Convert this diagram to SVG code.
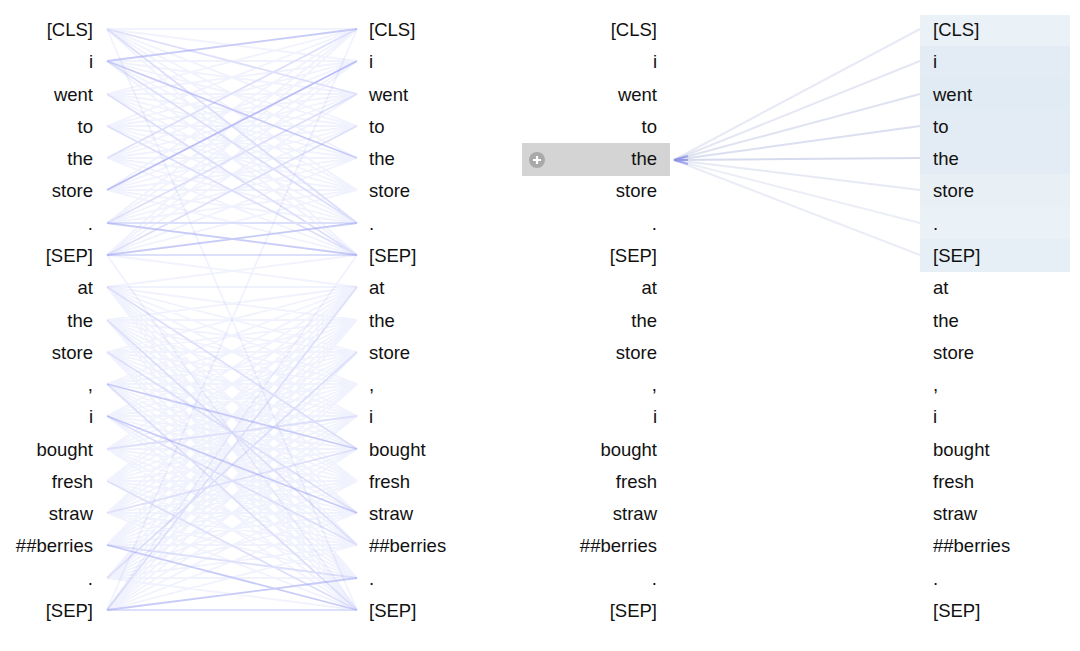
<svg xmlns="http://www.w3.org/2000/svg" width="1080" height="651" viewBox="0 0 1080 651">
<defs>
<filter id="soft" x="-5%" y="-5%" width="110%" height="110%"><feGaussianBlur stdDeviation="0.7"/></filter>
</defs>
<style>
text{font-family:"Liberation Sans",Arial,Helvetica,sans-serif;font-size:18.5px;fill:#111}
.l{text-anchor:end}
.r{text-anchor:start}
.mesh{fill:none;stroke:#5b63e8;stroke-opacity:0.085;stroke-width:1.8}
.med{fill:none;stroke:#6a71ea;stroke-opacity:0.15;stroke-width:1.8}
.strong{fill:none;stroke:#6a71ea;stroke-opacity:0.3;stroke-width:1.8}
.att{fill:none;stroke:#b0b8dc;stroke-width:2}
</style>
<rect width="1080" height="651" fill="#ffffff"/>
<g id="connectors">
<g id="left-panel-lines" filter="url(#soft)">
<path class="mesh" d="M107 29L357 29M107 29L357 61M107 29L357 94M107 29L357 126M107 29L357 158M107 29L357 190M107 29L357 223M107 29L357 255M107 61L357 29M107 61L357 61M107 61L357 94M107 61L357 126M107 61L357 158M107 61L357 190M107 61L357 223M107 61L357 255M107 94L357 29M107 94L357 61M107 94L357 94M107 94L357 126M107 94L357 158M107 94L357 190M107 94L357 223M107 94L357 255M107 126L357 29M107 126L357 61M107 126L357 94M107 126L357 126M107 126L357 158M107 126L357 190M107 126L357 223M107 126L357 255M107 158L357 29M107 158L357 61M107 158L357 94M107 158L357 126M107 158L357 158M107 158L357 190M107 158L357 223M107 158L357 255M107 190L357 29M107 190L357 61M107 190L357 94M107 190L357 126M107 190L357 158M107 190L357 190M107 190L357 223M107 190L357 255M107 223L357 29M107 223L357 61M107 223L357 94M107 223L357 126M107 223L357 158M107 223L357 190M107 223L357 223M107 223L357 255M107 255L357 29M107 255L357 61M107 255L357 94M107 255L357 126M107 255L357 158M107 255L357 190M107 255L357 223M107 255L357 255"/>
<path class="mesh" d="M107 287L357 287M107 287L357 320M107 287L357 352M107 287L357 384M107 287L357 416M107 287L357 449M107 287L357 481M107 287L357 513M107 287L357 545M107 287L357 578M107 287L357 610M107 320L357 287M107 320L357 320M107 320L357 352M107 320L357 384M107 320L357 416M107 320L357 449M107 320L357 481M107 320L357 513M107 320L357 545M107 320L357 578M107 320L357 610M107 352L357 287M107 352L357 320M107 352L357 352M107 352L357 384M107 352L357 416M107 352L357 449M107 352L357 481M107 352L357 513M107 352L357 545M107 352L357 578M107 352L357 610M107 384L357 287M107 384L357 320M107 384L357 352M107 384L357 384M107 384L357 416M107 384L357 449M107 384L357 481M107 384L357 513M107 384L357 545M107 384L357 578M107 384L357 610M107 416L357 287M107 416L357 320M107 416L357 352M107 416L357 384M107 416L357 416M107 416L357 449M107 416L357 481M107 416L357 513M107 416L357 545M107 416L357 578M107 416L357 610M107 449L357 287M107 449L357 320M107 449L357 352M107 449L357 384M107 449L357 416M107 449L357 449M107 449L357 481M107 449L357 513M107 449L357 545M107 449L357 578M107 449L357 610M107 481L357 287M107 481L357 320M107 481L357 352M107 481L357 384M107 481L357 416M107 481L357 449M107 481L357 481M107 481L357 513M107 481L357 545M107 481L357 578M107 481L357 610M107 513L357 287M107 513L357 320M107 513L357 352M107 513L357 384M107 513L357 416M107 513L357 449M107 513L357 481M107 513L357 513M107 513L357 545M107 513L357 578M107 513L357 610M107 545L357 287M107 545L357 320M107 545L357 352M107 545L357 384M107 545L357 416M107 545L357 449M107 545L357 481M107 545L357 513M107 545L357 545M107 545L357 578M107 545L357 610M107 578L357 287M107 578L357 320M107 578L357 352M107 578L357 384M107 578L357 416M107 578L357 449M107 578L357 481M107 578L357 513M107 578L357 545M107 578L357 578M107 578L357 610M107 610L357 287M107 610L357 320M107 610L357 352M107 610L357 384M107 610L357 416M107 610L357 449M107 610L357 481M107 610L357 513M107 610L357 545M107 610L357 578M107 610L357 610"/>
<path class="mesh" d="M107 255L357 287M107 287L357 255M107 255L357 610M107 610L357 255M107 29L357 610M107 610L357 29"/>
<path class="med" d="M107 29L357 223M107 61L357 223M107 94L357 255M107 190L357 61M107 223L357 94M107 255L357 126M107 126L357 255M107 158L357 29M107 255L357 255M107 223L357 223M107 29L357 94M107 287L357 449M107 352L357 513M107 416L357 545M107 481L357 610M107 513L357 449M107 578L357 352M107 610L357 610M107 545L357 578M107 320L357 545M107 384L357 610M107 449L357 416M107 610L357 287"/>
<path class="strong" d="M107 61L357 29M107 190L357 61M107 61L357 158M107 223L357 255M107 255L357 223M107 384L357 449M107 416L357 513M107 545L357 610M107 610L357 578"/>
</g>
<g id="mid-panel-lines" filter="url(#soft)">
<path class="att" stroke-opacity="0.3" d="M674 160L920 29"/>
<path class="att" stroke-opacity="0.34" d="M674 160L920 61"/>
<path class="att" stroke-opacity="0.4" d="M674 160L920 94"/>
<path class="att" stroke-opacity="0.45" d="M674 160L920 126"/>
<path class="att" stroke-opacity="0.5" d="M674 160L920 158"/>
<path class="att" stroke-opacity="0.3" d="M674 160L920 190"/>
<path class="att" stroke-opacity="0.24" d="M674 160L920 223"/>
<path class="att" stroke-opacity="0.26" d="M674 160L920 255"/>
<path fill="none" stroke="#6a71ea" stroke-opacity="0.55" stroke-width="2" d="M674 160L688 156M674 160L688 164M674 160L688 160"/>
</g>
</g>
<g id="right-highlight">
<rect x="920" y="15" width="150" height="257" fill="#edf3f8"/>
<rect x="920" y="15" width="150" height="31" fill="#9fc0dc" fill-opacity="0.03"/>
<rect x="920" y="46" width="150" height="32" fill="#9fc0dc" fill-opacity="0.12"/>
<rect x="920" y="78" width="150" height="32" fill="#9fc0dc" fill-opacity="0.16"/>
<rect x="920" y="110" width="150" height="32" fill="#9fc0dc" fill-opacity="0.13"/>
<rect x="920" y="142" width="150" height="32" fill="#9fc0dc" fill-opacity="0.12"/>
<rect x="920" y="174" width="150" height="33" fill="#9fc0dc" fill-opacity="0.05"/>
<rect x="920" y="207" width="150" height="32" fill="#9fc0dc" fill-opacity="0.03"/>
<rect x="920" y="239" width="150" height="33" fill="#9fc0dc" fill-opacity="0.08"/>
</g>
<g id="selected-token">
<rect x="522" y="143" width="148" height="33" fill="#d4d4d4"/>
<circle cx="537" cy="160" r="8" fill="#a9a9a9"/>
<path d="M533 160H541M537 156V164" stroke="#ffffff" stroke-width="2.2"/>
</g>
<g id="left-panel-left">
<text class="l" x="93" y="35.5">[CLS]</text>
<text class="l" x="93" y="67.5">i</text>
<text class="l" x="93" y="100.5">went</text>
<text class="l" x="93" y="132.5">to</text>
<text class="l" x="93" y="164.5">the</text>
<text class="l" x="93" y="196.5">store</text>
<text class="l" x="93" y="229.5">.</text>
<text class="l" x="93" y="261.5">[SEP]</text>
<text class="l" x="93" y="293.5">at</text>
<text class="l" x="93" y="326.5">the</text>
<text class="l" x="93" y="358.5">store</text>
<text class="l" x="93" y="390.5">,</text>
<text class="l" x="93" y="422.5">i</text>
<text class="l" x="93" y="455.5">bought</text>
<text class="l" x="93" y="487.5">fresh</text>
<text class="l" x="93" y="519.5">straw</text>
<text class="l" x="93" y="551.5">##berries</text>
<text class="l" x="93" y="584.5">.</text>
<text class="l" x="93" y="616.5">[SEP]</text>
</g>
<g id="left-panel-right">
<text class="r" x="369" y="35.5">[CLS]</text>
<text class="r" x="369" y="67.5">i</text>
<text class="r" x="369" y="100.5">went</text>
<text class="r" x="369" y="132.5">to</text>
<text class="r" x="369" y="164.5">the</text>
<text class="r" x="369" y="196.5">store</text>
<text class="r" x="369" y="229.5">.</text>
<text class="r" x="369" y="261.5">[SEP]</text>
<text class="r" x="369" y="293.5">at</text>
<text class="r" x="369" y="326.5">the</text>
<text class="r" x="369" y="358.5">store</text>
<text class="r" x="369" y="390.5">,</text>
<text class="r" x="369" y="422.5">i</text>
<text class="r" x="369" y="455.5">bought</text>
<text class="r" x="369" y="487.5">fresh</text>
<text class="r" x="369" y="519.5">straw</text>
<text class="r" x="369" y="551.5">##berries</text>
<text class="r" x="369" y="584.5">.</text>
<text class="r" x="369" y="616.5">[SEP]</text>
</g>
<g id="mid-panel-left">
<text class="l" x="657" y="35.5">[CLS]</text>
<text class="l" x="657" y="67.5">i</text>
<text class="l" x="657" y="100.5">went</text>
<text class="l" x="657" y="132.5">to</text>
<text class="l" x="657" y="164.5">the</text>
<text class="l" x="657" y="196.5">store</text>
<text class="l" x="657" y="229.5">.</text>
<text class="l" x="657" y="261.5">[SEP]</text>
<text class="l" x="657" y="293.5">at</text>
<text class="l" x="657" y="326.5">the</text>
<text class="l" x="657" y="358.5">store</text>
<text class="l" x="657" y="390.5">,</text>
<text class="l" x="657" y="422.5">i</text>
<text class="l" x="657" y="455.5">bought</text>
<text class="l" x="657" y="487.5">fresh</text>
<text class="l" x="657" y="519.5">straw</text>
<text class="l" x="657" y="551.5">##berries</text>
<text class="l" x="657" y="584.5">.</text>
<text class="l" x="657" y="616.5">[SEP]</text>
</g>
<g id="mid-panel-right">
<text class="r" x="933" y="35.5">[CLS]</text>
<text class="r" x="933" y="67.5">i</text>
<text class="r" x="933" y="100.5">went</text>
<text class="r" x="933" y="132.5">to</text>
<text class="r" x="933" y="164.5">the</text>
<text class="r" x="933" y="196.5">store</text>
<text class="r" x="933" y="229.5">.</text>
<text class="r" x="933" y="261.5">[SEP]</text>
<text class="r" x="933" y="293.5">at</text>
<text class="r" x="933" y="326.5">the</text>
<text class="r" x="933" y="358.5">store</text>
<text class="r" x="933" y="390.5">,</text>
<text class="r" x="933" y="422.5">i</text>
<text class="r" x="933" y="455.5">bought</text>
<text class="r" x="933" y="487.5">fresh</text>
<text class="r" x="933" y="519.5">straw</text>
<text class="r" x="933" y="551.5">##berries</text>
<text class="r" x="933" y="584.5">.</text>
<text class="r" x="933" y="616.5">[SEP]</text>
</g>
</svg>
